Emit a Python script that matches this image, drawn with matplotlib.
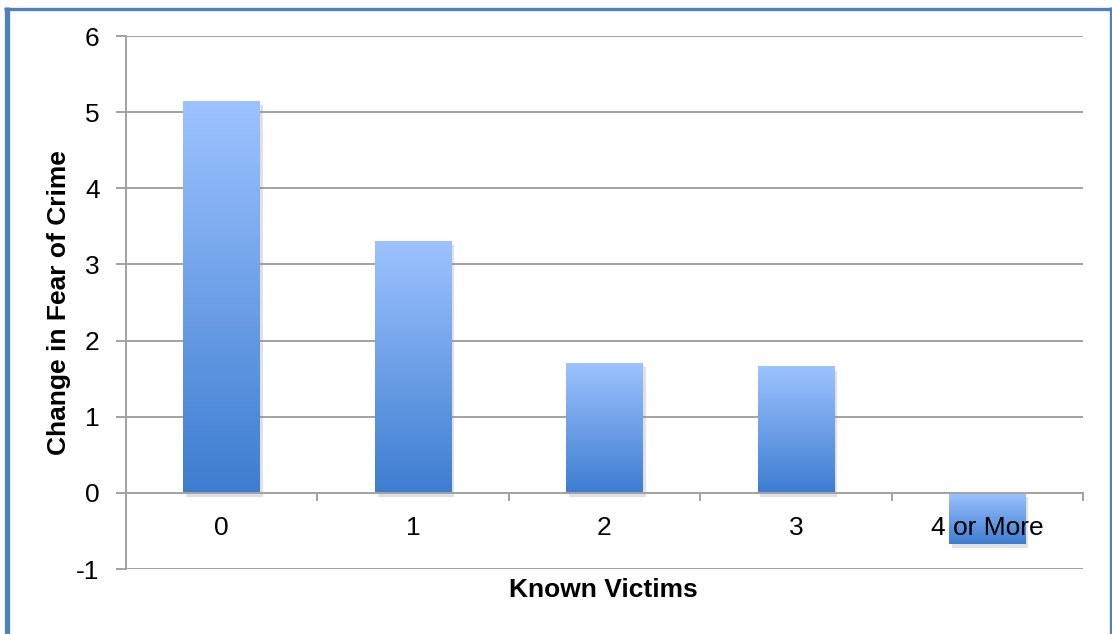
import numpy as np
import matplotlib
matplotlib.use('Agg')
import matplotlib.pyplot as plt
import matplotlib.patheffects as pe
from matplotlib.colors import LinearSegmentedColormap
from matplotlib.lines import Line2D

plt.rcParams['font.family'] = ['Liberation Sans', 'DejaVu Sans']

categories = ['0', '1', '2', '3', '4 or More']
fear_change = [5.15, 3.31, 1.71, 1.66, -0.67]
y_ticks = [-1, 0, 1, 2, 3, 4, 5, 6]

grid_col = '#a2a2a2'
grad = LinearSegmentedColormap.from_list('barblue', ['#3d7dd0', '#9dc3ff'])

fig = plt.figure(figsize=(11.12, 6.34), dpi=100)
ax = fig.add_axes([0.1133, 0.1025, 0.8606, 0.8407])

x = np.arange(len(categories))
bars = ax.bar(x, fear_change, width=0.40, color='#6a9ee6', zorder=1,
              path_effects=[pe.SimplePatchShadow(offset=(2, -3), shadow_rgbFace='#8a8a8a', alpha=0.25),
                            pe.Normal()])

# vertical gradient inside each bar, light at the top
g = np.linspace(0, 1, 256).reshape(-1, 1)
for b in bars:
    x0, y0 = b.get_x(), b.get_y()
    w, h = b.get_width(), b.get_height()
    lo, hi = min(y0, y0 + h), max(y0, y0 + h)
    im = ax.imshow(g, extent=(x0, x0 + w, lo, hi), origin='lower', cmap=grad,
                   aspect='auto', zorder=1.2, interpolation='bicubic')
    im.set_clip_path(b)

ax.set_xlim(-0.5, len(categories) - 0.5)
ax.set_ylim(-1, 6)

# horizontal gridlines behind the bars
for v in y_ticks:
    if v != 0:
        ax.axhline(v, color=grid_col, lw=1.4, zorder=0.5)

for s in ['top', 'right']:
    ax.spines[s].set_visible(False)
ax.spines['left'].set_color(grid_col)
ax.spines['left'].set_linewidth(1.4)
ax.spines['bottom'].set_position(('data', 0))
ax.spines['bottom'].set_color(grid_col)
ax.spines['bottom'].set_linewidth(1.4)

ax.set_yticks(y_ticks)
ax.set_yticklabels([str(v) for v in y_ticks])
ax.tick_params(axis='y', length=7, width=1.4, color=grid_col, labelsize=19, pad=12)

ax.set_xticks(x)
ax.set_xticklabels(categories)
ax.set_xticks(np.arange(len(categories) + 1) - 0.5, minor=True)
ax.tick_params(axis='x', which='major', length=0, labelsize=19, pad=17)
ax.tick_params(axis='x', which='minor', length=6, width=1.4, color=grid_col)

fig.text(0.543, 0.069, 'Known Victims', ha='center', va='center',
         fontsize=19, fontweight='bold')
fig.text(0.053, 0.522, 'Change in Fear of Crime', ha='center', va='center',
         rotation=90, fontsize=19, fontweight='bold')

# frame around the chart
edge = '#4f81bd'
fig.add_artist(Line2D([6.5 / 1112, 6.5 / 1112], [0, 1 - 7 / 634], color=edge, lw=3.8,
                      transform=fig.transFigure, solid_capstyle='butt'))
fig.add_artist(Line2D([4 / 1112, 1], [1 - 8.5 / 634, 1 - 8.5 / 634], color=edge, lw=2.4,
                      transform=fig.transFigure, solid_capstyle='butt'))
fig.add_artist(Line2D([1110.5 / 1112, 1110.5 / 1112], [0, 1 - 7 / 634], color=edge, lw=2.4,
                      transform=fig.transFigure, solid_capstyle='butt'))

fig.savefig('out.png', dpi=100)
